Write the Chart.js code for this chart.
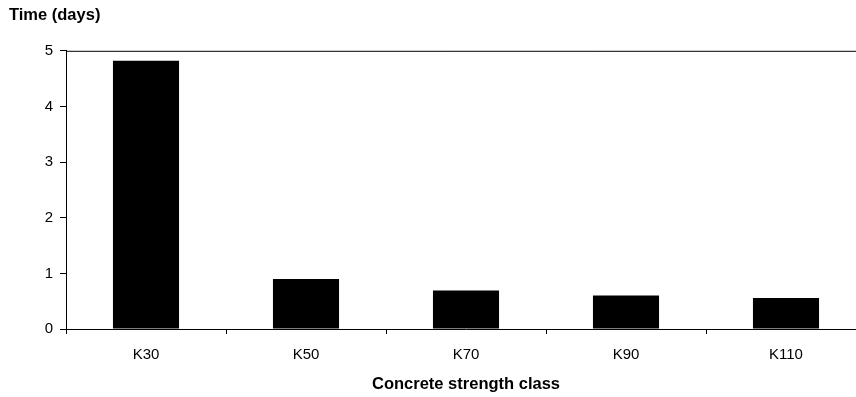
<!DOCTYPE html>
<html>
<head>
<meta charset="utf-8">
<script src="https://cdn.jsdelivr.net/npm/chart.js@4/dist/chart.umd.min.js"></script>
<style>
  html, body { margin: 0; padding: 0; background: #fff; overflow: hidden; }
  /* the original is cropped on the right, so the canvas runs a bit past the window */
  #wrap { width: 856px; height: 397px; overflow: hidden; }
</style>
</head>
<body>
<div id="wrap"><canvas id="timeChart" width="870" height="397"></canvas></div>
<script>
// Chart data
const categories = ['K30', 'K50', 'K70', 'K90', 'K110'];
const timeDays = [4.82, 0.90, 0.69, 0.60, 0.555];
const yTicks = [0, 1, 2, 3, 4, 5];

const fontFamily = '"Liberation Sans", Arial, Helvetica, sans-serif';

// top border line across the plot area (no right border in the original)
const topLine = {
    id: 'topLine',
    afterDraw(chart) {
        const { ctx, chartArea } = chart;
        ctx.save();
        ctx.strokeStyle = '#000';
        ctx.lineWidth = 1;
        ctx.beginPath();
        ctx.moveTo(chartArea.left, chartArea.top + 0.5);
        ctx.lineTo(chartArea.right, chartArea.top + 0.5);
        ctx.stroke();
        ctx.restore();
    }
};

const ctx = document.getElementById('timeChart');
new Chart(ctx.getContext('2d'), {
    type: 'bar',
    data: {
        labels: categories,
        datasets: [{
            label: 'Time (days)',
            data: timeDays,
            backgroundColor: '#000',
            borderWidth: 0,
            barPercentage: 0.413,
            categoryPercentage: 1
        }]
    },
    options: {
        responsive: false,
        animation: false,
        layout: { padding: { left: 9, right: 4, top: 0, bottom: 0 } },
        plugins: {
            legend: { display: false },
            tooltip: { enabled: false },
            title: {
                display: true,
                text: 'Time (days)',
                align: 'start',
                color: '#000',
                font: { family: fontFamily, size: 16.5, weight: 'bold' },
                padding: { top: 6, bottom: 25 }
            }
        },
        scales: {
            x: {
                grid: { display: true, drawOnChartArea: false, drawTicks: true, tickLength: 5, color: '#000', offset: true },
                border: { color: '#000', width: 1 },
                ticks: { color: '#000', font: { family: fontFamily, size: 15 }, padding: 12 },
                title: {
                    display: true,
                    text: 'Concrete strength class',
                    color: '#000',
                    font: { family: fontFamily, size: 16.5, weight: 'bold' },
                    padding: { top: 2, bottom: 3 }
                },
                afterFit(axis) { axis.height = 68; }
            },
            y: {
                min: 0,
                max: 5,
                afterBuildTicks(axis) { axis.ticks = yTicks.map(v => ({ value: v })); },
                grid: { display: true, drawOnChartArea: false, drawTicks: true, tickLength: 6, color: '#000' },
                border: { color: '#000', width: 1 },
                ticks: { color: '#000', font: { family: fontFamily, size: 15 }, padding: 7 },
                afterFit(axis) { axis.width = 57; }
            }
        }
    },
    plugins: [topLine]
});
</script>
</body>
</html>
